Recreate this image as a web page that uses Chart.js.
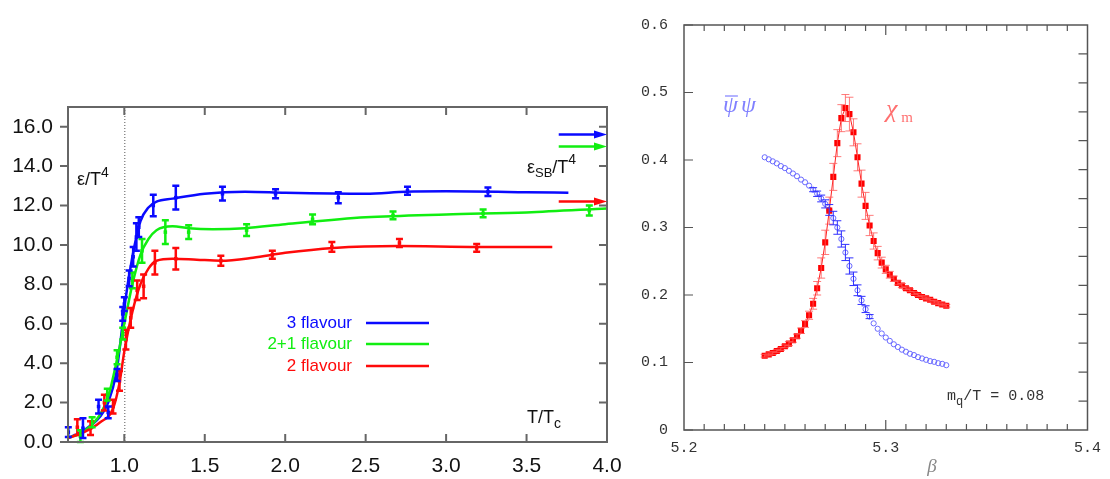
<!DOCTYPE html>
<html>
<head>
<meta charset="utf-8">
<script src="https://cdn.jsdelivr.net/npm/chart.js@4.4.0/dist/chart.umd.min.js"></script>
<style>
  html, body { margin: 0; padding: 0; background: #fff; }
  #wrap { position: relative; width: 1110px; height: 479px; overflow: hidden; }
  #left { position: absolute; left: 0; top: 0; }
  #right { position: absolute; left: 620px; top: 0; }
</style>
</head>
<body>
<div id="wrap">
  <canvas id="left" width="640" height="479"></canvas>
  <canvas id="right" width="490" height="479"></canvas>
</div>
<script>
// ---- left panel: energy density eps/T^4 vs T/Tc ----
const xTicksL = [1.0, 1.5, 2.0, 2.5, 3.0, 3.5, 4.0]
const yTicksL = [0, 2, 4, 6, 8, 10, 12, 14, 16]

const flav3T   = [0.652, 0.743, 0.840, 0.900, 0.955, 0.990, 1.000, 1.030, 1.055, 1.075, 1.090, 1.180, 1.320, 1.610, 1.940, 2.330, 2.760, 3.260]
const flav3E   = [0.5, 0.7, 1.8, 1.5, 3.4, 6.5, 7.0, 8.3, 9.4, 10.4, 10.9, 12.0, 12.4, 12.6, 12.6, 12.4, 12.75, 12.7]
const flav3Err = [0.25, 0.5, 0.35, 0.3, 0.3, 0.35, 0.35, 0.4, 0.5, 0.7, 0.5, 0.55, 0.6, 0.35, 0.23, 0.28, 0.2, 0.22]
const fit3T = [0.65, 0.75, 0.85, 0.90, 0.95, 0.975, 1.0, 1.05, 1.10, 1.15, 1.20, 1.30, 1.50, 1.75, 2.0, 2.5, 2.75, 3.0, 3.5, 3.76]
const fit3E = [0.2, 0.6, 1.3, 2.0, 3.5, 5.0, 6.8, 9.4, 11.2, 11.9, 12.2, 12.35, 12.6, 12.7, 12.65, 12.6, 12.7, 12.72, 12.68, 12.65]

const flav21T   = [0.727, 0.800, 0.894, 0.955, 0.990, 1.050, 1.110, 1.255, 1.400, 1.760, 2.170, 2.670, 3.230, 3.890]
const flav21E   = [0.3, 1.0, 2.4, 4.3, 5.5, 8.2, 9.7, 10.65, 10.65, 10.75, 11.3, 11.5, 11.6, 11.75]
const flav21Err = [0.3, 0.25, 0.3, 0.35, 0.3, 0.4, 0.6, 0.6, 0.35, 0.3, 0.25, 0.2, 0.2, 0.25]
const fit21T = [0.65, 0.75, 0.85, 0.90, 0.95, 1.0, 1.05, 1.10, 1.15, 1.20, 1.30, 1.40, 1.55, 1.75, 2.0, 2.5, 3.0, 3.5, 4.0]
const fit21E = [0.2, 0.55, 1.4, 2.3, 4.0, 6.0, 8.0, 9.5, 10.3, 10.75, 10.95, 10.85, 10.8, 10.85, 11.05, 11.4, 11.55, 11.65, 11.85]

const flav2T   = [0.708, 0.790, 0.876, 0.930, 0.970, 1.010, 1.040, 1.080, 1.120, 1.190, 1.320, 1.600, 1.920, 2.290, 2.710, 3.190]
const flav2E   = [0.75, 0.7, 2.0, 1.8, 3.1, 5.2, 6.3, 7.7, 7.9, 9.1, 9.3, 9.2, 9.5, 9.9, 10.1, 9.85]
const flav2Err = [0.4, 0.35, 0.4, 0.35, 0.5, 0.5, 0.5, 0.5, 0.6, 0.6, 0.55, 0.25, 0.2, 0.25, 0.2, 0.2]
const fit2T = [0.65, 0.75, 0.85, 0.93, 0.97, 1.0, 1.05, 1.10, 1.15, 1.20, 1.30, 1.45, 1.60, 1.80, 2.0, 2.3, 2.7, 3.2, 3.66]
const fit2E = [0.2, 0.5, 1.0, 1.7, 3.0, 4.6, 6.6, 8.0, 8.8, 9.2, 9.3, 9.25, 9.2, 9.35, 9.6, 9.85, 9.95, 9.9, 9.9]

// Stefan-Boltzmann limits (arrows at the right edge)
const sbLimits = [15.6, 15.0, 12.2]
const sbArrowFrom = 3.70

const flavNames  = ['3 flavour', '2+1 flavour', '2 flavour']
const flavColors = ['#0a0aff', '#11ee11', '#ff0a0a']

// ---- right panel: chiral condensate and susceptibility vs beta ----
const beta = [5.240, 5.242, 5.244, 5.246, 5.248, 5.250, 5.252, 5.254, 5.256, 5.258,
              5.260, 5.262, 5.264, 5.266, 5.268, 5.270, 5.272, 5.274, 5.276, 5.278,
              5.280, 5.282, 5.284, 5.286, 5.288, 5.290, 5.292, 5.294, 5.296, 5.298,
              5.300, 5.302, 5.304, 5.306, 5.308, 5.310, 5.312, 5.314, 5.316, 5.318,
              5.320, 5.322, 5.324, 5.326, 5.328, 5.330]
const pbp = [0.404, 0.401, 0.398, 0.395, 0.391, 0.388, 0.384, 0.380, 0.376, 0.371,
             0.367, 0.362, 0.356, 0.350, 0.343, 0.335, 0.326, 0.314, 0.300, 0.283,
             0.263, 0.243, 0.224, 0.207, 0.192, 0.179, 0.168, 0.158, 0.150, 0.143,
             0.137, 0.132, 0.127, 0.123, 0.119, 0.116, 0.113, 0.111, 0.108, 0.106,
             0.104, 0.102, 0.101, 0.099, 0.098, 0.096]
const pbpErr = [0, 0, 0, 0, 0, 0, 0, 0, 0, 0,
                0, 0, 0.003, 0.004, 0.005, 0.006, 0.008, 0.01, 0.01, 0.012,
                0.012, 0.012, 0.01, 0.008, 0.006, 0.005, 0.003, 0, 0, 0,
                0, 0, 0, 0, 0, 0, 0, 0, 0, 0,
                0, 0, 0, 0, 0, 0]
const chi = [0.110, 0.112, 0.114, 0.117, 0.120, 0.124, 0.128, 0.133, 0.139, 0.147,
             0.157, 0.170, 0.187, 0.210, 0.240, 0.278, 0.325, 0.375, 0.425, 0.462,
             0.477, 0.468, 0.441, 0.404, 0.365, 0.332, 0.303, 0.280, 0.262, 0.248,
             0.238, 0.230, 0.224, 0.218, 0.214, 0.210, 0.207, 0.203, 0.200, 0.197,
             0.195, 0.193, 0.190, 0.188, 0.186, 0.184]
const chiErr = [0.002, 0.002, 0.002, 0.002, 0.002, 0.002, 0.003, 0.003, 0.003, 0.004,
                0.005, 0.006, 0.008, 0.010, 0.015, 0.018, 0.020, 0.020, 0.020, 0.020,
                0.020, 0.025, 0.020, 0.020, 0.020, 0.020, 0.015, 0.012, 0.010, 0.008,
                0.006, 0.005, 0.004, 0.003, 0.003, 0.002, 0.002, 0.002, 0.002, 0.002,
                0.002, 0.002, 0.002, 0.002, 0.002, 0.002]
const xTicksR = [5.2, 5.3, 5.4]
const yTicksR = [0, 0.1, 0.2, 0.3, 0.4, 0.5, 0.6]

function pts(xs, ys) {
  return xs.map((x, i) => ({ x: x, y: ys[i] }))
}

// vertical error bars for any dataset that carries an `errors` array
const errorBars = {
  id: 'errorBars',
  afterDatasetsDraw(chart) {
    const ctx = chart.ctx
    const xs = chart.scales.x, ys = chart.scales.y
    chart.data.datasets.forEach((ds) => {
      if (!ds.errors) return
      ctx.save()
      ctx.strokeStyle = ds.errorColor || ds.borderColor
      ctx.lineWidth = ds.errorWidth || 1
      ds.data.forEach((p, i) => {
        const e = ds.errors[i]
        if (!e) return
        const px = xs.getPixelForValue(p.x)
        const y1 = ys.getPixelForValue(p.y - e)
        const y2 = ys.getPixelForValue(p.y + e)
        const c = ds.capWidth || 3
        ctx.beginPath()
        ctx.moveTo(px, y1); ctx.lineTo(px, y2)
        ctx.moveTo(px - c, y1); ctx.lineTo(px + c, y1)
        ctx.moveTo(px - c, y2); ctx.lineTo(px + c, y2)
        ctx.stroke()
      })
      ctx.restore()
    })
  }
}

// text with a raised or lowered small part, e.g. T^4 or T_c
function richText(ctx, x, y, parts) {
  parts.forEach((p) => {
    ctx.font = p.font
    ctx.fillText(p.t, x, y + (p.dy || 0))
    x += ctx.measureText(p.t).width
  })
}

const leftDecor = {
  id: 'leftDecor',
  beforeDatasetsDraw(chart) {
    const ctx = chart.ctx, a = chart.chartArea
    const px = chart.scales.x.getPixelForValue(1.0)
    ctx.save()
    ctx.strokeStyle = '#555'
    ctx.lineWidth = 1
    ctx.setLineDash([1, 2])
    ctx.beginPath()
    ctx.moveTo(px + 0.5, a.top); ctx.lineTo(px + 0.5, a.bottom)
    ctx.stroke()
    ctx.restore()
  },
  afterDraw(chart) {
    const ctx = chart.ctx, a = chart.chartArea
    const xs = chart.scales.x, ys = chart.scales.y
    ctx.save()
    // frame
    ctx.strokeStyle = '#666'
    ctx.lineWidth = 2
    ctx.strokeRect(a.left, a.top, a.right - a.left, a.bottom - a.top)
    ctx.beginPath()
    xTicksL.forEach((v) => {
      const px = xs.getPixelForValue(v)
      ctx.moveTo(px, a.bottom); ctx.lineTo(px, a.bottom - 8)
      ctx.moveTo(px, a.top); ctx.lineTo(px, a.top + 8)
    })
    yTicksL.forEach((v) => {
      const py = ys.getPixelForValue(v)
      ctx.moveTo(a.left - 8, py); ctx.lineTo(a.left, py)
      ctx.moveTo(a.right, py); ctx.lineTo(a.right - 8, py)
    })
    ctx.stroke()

    // SB arrows
    sbLimits.forEach((v, i) => {
      const py = ys.getPixelForValue(v)
      const x0 = xs.getPixelForValue(sbArrowFrom), x1 = xs.getPixelForValue(4.0)
      ctx.strokeStyle = flavColors[i]
      ctx.fillStyle = flavColors[i]
      ctx.lineWidth = 2.5
      ctx.beginPath(); ctx.moveTo(x0, py); ctx.lineTo(x1 - 10, py); ctx.stroke()
      ctx.beginPath()
      ctx.moveTo(x1, py); ctx.lineTo(x1 - 13, py - 4); ctx.lineTo(x1 - 13, py + 4)
      ctx.closePath(); ctx.fill()
    })

    // legend
    const legY = [323, 344, 366]
    ctx.textBaseline = 'middle'
    flavNames.forEach((n, i) => {
      ctx.fillStyle = flavColors[i]
      ctx.strokeStyle = flavColors[i]
      ctx.font = '17px "Liberation Sans", Arial, sans-serif'
      ctx.textAlign = 'right'
      ctx.fillText(n, 352, legY[i])
      ctx.lineWidth = 2.5
      ctx.beginPath(); ctx.moveTo(366, legY[i]); ctx.lineTo(429, legY[i]); ctx.stroke()
    })

    // axis annotations
    ctx.fillStyle = '#111'
    ctx.textAlign = 'left'
    ctx.textBaseline = 'alphabetic'
    const big = '18px "Liberation Sans", Arial, sans-serif'
    const small = '13px "Liberation Sans", Arial, sans-serif'
    richText(ctx, 77, 185, [{ t: 'ε/T', font: big }, { t: '4', font: '14px "Liberation Sans", Arial, sans-serif', dy: -8 }])
    richText(ctx, 527, 173, [{ t: 'ε', font: big }, { t: 'SB', font: small, dy: 4 }, { t: '/T', font: big }, { t: '4', font: '14px "Liberation Sans", Arial, sans-serif', dy: -9 }])
    richText(ctx, 527, 423, [{ t: 'T/T', font: big }, { t: 'c', font: '14px "Liberation Sans", Arial, sans-serif', dy: 5 }])
    ctx.restore()
  }
}

function fitSet(xs, ys, color) {
  return {
    type: 'line', data: pts(xs, ys), borderColor: color, borderWidth: 2.5,
    pointRadius: 0, cubicInterpolationMode: 'monotone', fill: false
  }
}
function pointSet(xs, ys, errs, color) {
  return {
    type: 'scatter', data: pts(xs, ys), errors: errs, borderColor: color,
    backgroundColor: color, errorWidth: 2.5, capWidth: 3.5,
    pointStyle: 'rect', pointRadius: 2.5, pointBorderWidth: 0, showLine: false
  }
}

var leftChart = new Chart(document.getElementById('left'), {
  data: {
    datasets: [
      pointSet(flav2T, flav2E, flav2Err, flavColors[2]),
      pointSet(flav21T, flav21E, flav21Err, flavColors[1]),
      pointSet(flav3T, flav3E, flav3Err, flavColors[0]),
      fitSet(fit2T, fit2E, flavColors[2]),
      fitSet(fit21T, fit21E, flavColors[1]),
      fitSet(fit3T, fit3E, flavColors[0]),
    ]
  },
  options: {
    responsive: false,
    animation: false,
    devicePixelRatio: 1,
    layout: { padding: { top: 107, right: 33, left: 0, bottom: 0 } },
    plugins: { legend: { display: false }, tooltip: { enabled: false } },
    scales: {
      x: {
        type: 'linear', min: 0.65, max: 4.0,
        grid: { display: false, drawTicks: false }, border: { display: false },
        afterBuildTicks: (s) => { s.ticks = xTicksL.map((v) => ({ value: v })) },
        afterFit: (s) => { s.height = 37 },
        ticks: { padding: 12, color: '#111', font: { family: '"Liberation Sans", Arial, sans-serif', size: 21 },
                 callback: (v) => v.toFixed(1) }
      },
      y: {
        type: 'linear', min: 0, max: 17,
        grid: { display: false, drawTicks: false }, border: { display: false },
        afterBuildTicks: (s) => { s.ticks = yTicksL.map((v) => ({ value: v })) },
        afterFit: (s) => { s.width = 68 },
        ticks: { padding: 15, color: '#111', font: { family: '"Liberation Sans", Arial, sans-serif', size: 21 },
                 callback: (v) => v.toFixed(1) }
      }
    }
  },
  plugins: [leftDecor, errorBars]
})

const rightDecor = {
  id: 'rightDecor',
  afterDraw(chart) {
    const ctx = chart.ctx, a = chart.chartArea
    const xs = chart.scales.x, ys = chart.scales.y, y2 = chart.scales.y2
    ctx.save()
    ctx.strokeStyle = '#555'
    ctx.lineWidth = 1.5
    ctx.strokeRect(a.left, a.top, a.right - a.left, a.bottom - a.top)
    ctx.lineWidth = 1.2
    ctx.beginPath()
    // minor ticks every 0.01 in beta, taken from the scale's own range
    for (let k = 1; k < 20; k++) {
      const v = xs.min + k * (xs.max - xs.min) / 20
      const px = xs.getPixelForValue(v)
      const len = (k % 10 === 0) ? 10 : 6
      ctx.moveTo(px, a.bottom); ctx.lineTo(px, a.bottom - len)
      ctx.moveTo(px, a.top); ctx.lineTo(px, a.top + len)
    }
    yTicksR.forEach((v) => {
      const py = ys.getPixelForValue(v)
      ctx.moveTo(a.left, py); ctx.lineTo(a.left + 9, py)
    })
    for (let k = 1; k < 14; k++) {
      const py = y2.getPixelForValue(k)
      ctx.moveTo(a.right, py); ctx.lineTo(a.right - 9, py)
    }
    ctx.stroke()

    // labels
    ctx.textAlign = 'left'
    ctx.textBaseline = 'alphabetic'
    ctx.fillStyle = '#8080ff'
    ctx.strokeStyle = '#8080ff'
    ctx.font = 'italic 24px "Liberation Serif", "DejaVu Serif", serif'
    ctx.fillText('ψ', 103, 112)
    const w = ctx.measureText('ψ').width
    ctx.fillText('ψ', 103 + w + 3, 112)
    ctx.lineWidth = 1.2
    ctx.beginPath(); ctx.moveTo(105, 96); ctx.lineTo(103 + w, 96); ctx.stroke()

    ctx.fillStyle = '#ff7070'
    richText(ctx, 266, 117, [{ t: 'χ', font: 'italic 26px "Liberation Serif", "DejaVu Serif", serif' },
                             { t: ' m', font: '15px "Liberation Serif", "DejaVu Serif", serif', dy: 5 }])

    ctx.fillStyle = '#888'
    ctx.textAlign = 'center'
    ctx.font = 'italic 19px "Liberation Serif", "DejaVu Serif", serif'
    ctx.fillText('β', 312, 472)

    ctx.fillStyle = '#333'
    ctx.textAlign = 'left'
    const mono = '15px "Liberation Mono", "DejaVu Sans Mono", monospace'
    richText(ctx, 327, 400, [{ t: 'm', font: mono }, { t: 'q', font: '12px "Liberation Mono", monospace', dy: 5 },
                             { t: '/T = 0.08', font: mono }])
    ctx.restore()
  }
}

var rightChart = new Chart(document.getElementById('right'), {
  data: {
    datasets: [
      {
        type: 'line', data: pts(beta, chi), errors: chiErr,
        borderColor: '#ff2020', borderWidth: 1, backgroundColor: '#ff0000',
        errorColor: 'rgba(255,90,90,0.8)', errorWidth: 1, capWidth: 4,
        pointStyle: 'rect', pointRadius: 4.3, pointBorderWidth: 0, tension: 0
      },
      {
        type: 'scatter', data: pts(beta, pbp), errors: pbpErr,
        borderColor: '#6a6aff', backgroundColor: 'rgba(255,255,255,0)',
        errorColor: '#3030ff', errorWidth: 1, capWidth: 4,
        pointStyle: 'circle', pointRadius: 2.6, pointBorderWidth: 1, showLine: false
      }
    ]
  },
  options: {
    responsive: false,
    animation: false,
    devicePixelRatio: 1,
    layout: { padding: { top: 11, right: 22, left: 0, bottom: 0 } },
    plugins: { legend: { display: false }, tooltip: { enabled: false } },
    scales: {
      x: {
        type: 'linear', min: 5.2, max: 5.4,
        grid: { display: false, drawTicks: false }, border: { display: false },
        afterBuildTicks: (s) => { s.ticks = xTicksR.map((v) => ({ value: v })) },
        afterFit: (s) => { s.height = 49 },
        ticks: { padding: 9, color: '#333', font: { family: '"Liberation Mono", "DejaVu Sans Mono", monospace', size: 15 },
                 callback: (v) => v.toFixed(1) }
      },
      y: {
        type: 'linear', min: 0, max: 0.6,
        grid: { display: false, drawTicks: false }, border: { display: false },
        afterBuildTicks: (s) => { s.ticks = yTicksR.map((v) => ({ value: v })) },
        afterFit: (s) => { s.width = 64 },
        ticks: { padding: 16, color: '#333', font: { family: '"Liberation Mono", "DejaVu Sans Mono", monospace', size: 15 },
                 callback: (v) => (v === 0 ? '0' : v.toFixed(1)) }
      },
      y2: {
        type: 'linear', min: 0, max: 14, display: false
      }
    }
  },
  plugins: [errorBars, rightDecor]
})
</script>
</body>
</html>
